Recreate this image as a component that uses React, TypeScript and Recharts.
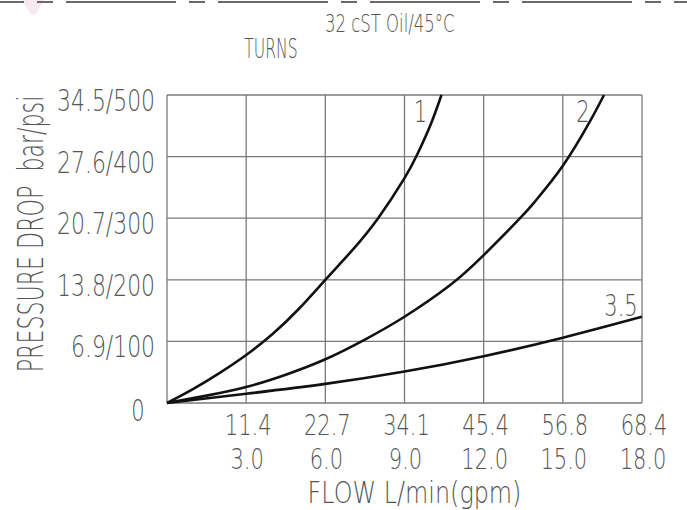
import React from "react";
import { LineChart, Line, XAxis, YAxis, CartesianGrid } from "recharts";

const FONT = "'DejaVu Sans ExtraLight', 'DejaVu Sans', sans-serif";
const TEXT = "#555";

// x axis in gpm, with the L/min equivalent shown above it
const flowTicks = [0, 3, 6, 9, 12, 15, 18];
const flowLpmLabels = ["", "11.4", "22.7", "34.1", "45.4", "56.8", "68.4"];
const flowGpmLabels = ["", "3.0", "6.0", "9.0", "12.0", "15.0", "18.0"];

// y axis in psi
const pressureTicks = [0, 100, 200, 300, 400, 500];
const pressureLabels = ["0", "6.9/100", "13.8/200", "20.7/300", "27.6/400", "34.5/500"];

const turnLabels = ["1", "2", "3.5"];

const turns1Flow = [0, 1, 2, 3, 4, 5, 6, 7, 8, 9, 9.5, 10, 10.4];
const turns1Psi = [0, 23, 49, 78, 112, 153, 200, 247, 300, 365, 405, 453, 500];

const turns2Flow = [0, 1.5, 3, 4.5, 6, 7.5, 9, 10.72, 12, 13.38, 14, 15, 16, 16.56];
const turns2Psi = [0, 12, 26, 46, 71, 103, 140, 191, 240, 300, 330, 385, 455, 500];

const turns35Flow = [0, 3, 6, 9, 12, 15, 18];
const turns35Psi = [0, 15, 31, 51, 76, 106, 140];

const zip = (xs: number[], ys: number[]) => xs.map((gpm, i) => ({ gpm, psi: ys[i] }));

const series = [zip(turns1Flow, turns1Psi), zip(turns2Flow, turns2Psi), zip(turns35Flow, turns35Psi)];

// condensed CAD-like text: squeeze the glyphs horizontally
const T = (props: any) => {
  const { x, y, size, sx = 0.66, anchor = "start", rotate, children } = props;
  const tf = `translate(${x} ${y})${rotate ? ` rotate(${rotate})` : ""} scale(${sx} 1)`;
  return (
    <text transform={tf} fontFamily={FONT} fontWeight={200} fontSize={size} fill={TEXT} textAnchor={anchor} xmlSpace="preserve">
      {children}
    </text>
  );
};

const FlowTick = (props: any) => {
  const { x, y, payload } = props;
  const i = flowTicks.indexOf(payload.value);
  if (i <= 0) return null;
  return (
    <g>
      <T x={x + 2} y={y + 30} size={28} sx={0.75} anchor="middle">{flowLpmLabels[i]}</T>
      <T x={x + 1} y={y + 64} size={28} sx={0.75} anchor="middle">{flowGpmLabels[i]}</T>
    </g>
  );
};

const PressureTick = (props: any) => {
  const { x, y, payload } = props;
  const i = pressureTicks.indexOf(payload.value);
  if (i < 0) return null;
  if (i === 0) {
    return <T x={x - 27} y={y + 18} size={30} sx={0.7} anchor="middle">{pressureLabels[i]}</T>;
  }
  return <T x={x - 10} y={y + 16} size={30} sx={0.73} anchor="end">{pressureLabels[i]}</T>;
};

const turnLabel = (k: number) => (props: any) => {
  const { x, y, index } = props;
  if (index !== series[k].length - 1) return null;
  const below = k < 2;
  return (
    <g key={`tl-${k}`}>
      <T x={x - 21} y={below ? y + 27 : y - 1} size={30} sx={0.7} anchor="middle">{turnLabels[k]}</T>
    </g>
  );
};

export default function App() {
  return (
    <div style={{ position: "absolute", left: 0, top: 0, width: 687, height: 510, background: "#fff" }}>
      <svg width={687} height={510} style={{ position: "absolute", left: 0, top: 0 }}>
        <polygon points="22,0 44,0 36,14 31,15" fill="#f8e8f0" />
        <line x1={0} y1={2} x2={687} y2={2} stroke="#6a6a6a" strokeWidth={2} strokeDasharray="110 13 16 13" strokeDashoffset={86} />
        <T x={325} y={32} size={25} sx={0.66}>32 cST Oil/45°C</T>
        <T x={271} y={58} size={26} sx={0.6} anchor="middle">TURNS</T>
      </svg>
      <div style={{ position: "absolute", left: 0, top: 0 }}>
        <LineChart width={687} height={510} margin={{ top: 95, right: 45, left: 0, bottom: 0 }}>
          <CartesianGrid stroke="#7a7a7a" strokeWidth={1.3} />
          <XAxis
            type="number"
            dataKey="gpm"
            domain={[0, 18]}
            ticks={flowTicks}
            height={107}
            axisLine={false}
            tickLine={false}
            tickSize={0}
            tick={<FlowTick />}
            interval={0}
            label={{
              content: (p: any) => {
                const vb = p.viewBox;
                return <T x={vb.x + vb.width / 2 + 10} y={vb.y + 100} size={31} sx={0.77} anchor="middle">FLOW L/min(gpm)</T>;
              },
            }}
          />
          <YAxis
            type="number"
            dataKey="psi"
            domain={[0, 500]}
            ticks={pressureTicks}
            width={167}
            axisLine={false}
            tickLine={false}
            tickSize={0}
            tick={<PressureTick />}
            interval={0}
            label={{
              content: (p: any) => {
                const vb = p.viewBox;
                const cy = vb.y + vb.height / 2 - 15;
                return <T x={43} y={cy} size={36} sx={0.615} rotate={-90} anchor="middle">PRESSURE DROP  bar/psi</T>;
              },
            }}
          />
          {series.map((d, k) => (
            <Line
              key={k}
              data={d}
              dataKey="psi"
              type="natural"
              stroke="#111"
              strokeWidth={2.6}
              dot={false}
              isAnimationActive={false}
              label={turnLabel(k)}
            />
          ))}
        </LineChart>
      </div>
    </div>
  );
}
